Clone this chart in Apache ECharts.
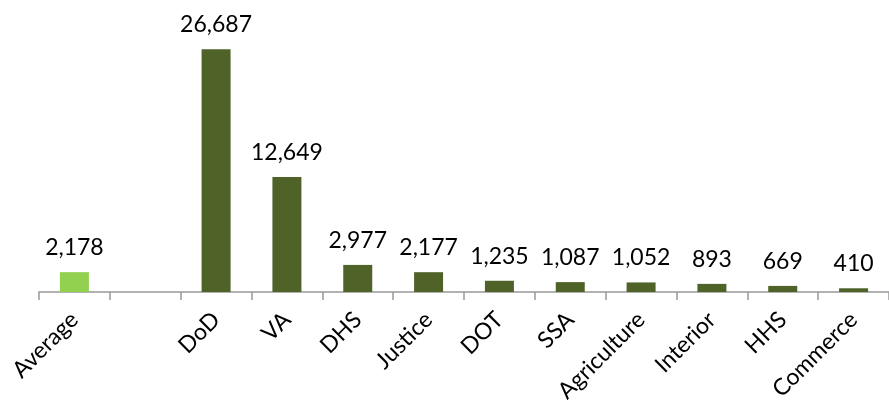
<!DOCTYPE html>
<html>
<head>
<meta charset="utf-8">
<script src="https://cdn.jsdelivr.net/npm/echarts@6/dist/echarts.min.js"></script>
<style>
  html, body { margin: 0; padding: 0; background: #fff; }
  #chart { width: 889px; height: 411px; }
</style>
</head>
<body>
<div id="chart"></div>
<script>
// categories (blank slot between Average and DoD)
var categories = ['Average', '', 'DoD', 'VA', 'DHS', 'Justice', 'DOT', 'SSA', 'Agriculture', 'Interior', 'HHS', 'Commerce'];
var values = [2178, null, 26687, 12649, 2977, 2177, 1235, 1087, 1052, 893, 669, 410];
var highlightIndex = 0; // Average bar in light green

var chart = echarts.init(document.getElementById('chart'));

chart.setOption({
  animation: false,
  grid: { left: 39, right: -3, top: 19, bottom: 119 },
  xAxis: {
    type: 'category',
    data: categories,
    axisLine: { lineStyle: { color: '#999', width: 1.5 } },
    axisTick: { show: true, length: 8, lineStyle: { color: '#999', width: 1.5 } },
    axisLabel: {
      rotate: 45,
      interval: 0,
      margin: 24,
      color: '#000',
      fontFamily: 'Lato',
      fontSize: 23
    }
  },
  yAxis: {
    type: 'value',
    min: 0,
    max: 30000,
    show: false,
    splitLine: { show: false }
  },
  series: [{
    type: 'bar',
    barWidth: 29,
    data: values.map(function (v, i) {
      return {
        value: v,
        itemStyle: { color: i === highlightIndex ? '#92d050' : '#4f6228' }
      };
    }),
    label: {
      show: true,
      position: 'top',
      distance: 13,
      color: '#000',
      fontFamily: 'Lato',
      fontSize: 23,
      formatter: function (p) {
        return p.value == null ? '' : p.value.toLocaleString('en-US');
      }
    }
  }]
});
</script>
</body>
</html>
